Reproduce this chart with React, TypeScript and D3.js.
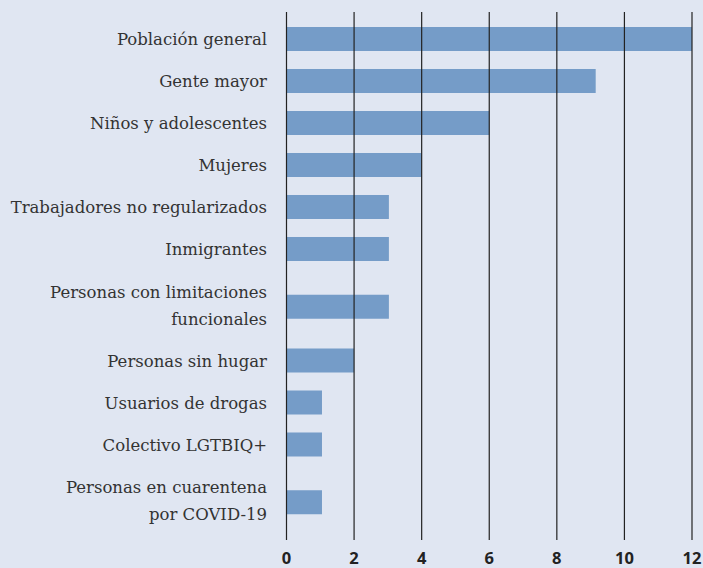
import { useEffect, useRef } from "react";
import * as d3 from "d3";

// categories (each entry = label lines)
const categories: string[][] = [
  ["Población general"],
  ["Gente mayor"],
  ["Niños y adolescentes"],
  ["Mujeres"],
  ["Trabajadores no regularizados"],
  ["Inmigrantes"],
  ["Personas con limitaciones", "funcionales"],
  ["Personas sin hugar"],
  ["Usuarios de drogas"],
  ["Colectivo LGTBIQ+"],
  ["Personas en cuarentena", "por COVID-19"],
];
const values = [12, 9.15, 6, 4, 3.03, 3.03, 3.03, 2, 1.05, 1.05, 1.05];
const ticks = [0, 2, 4, 6, 8, 10, 12];

export default function App() {
  const ref = useRef<SVGSVGElement>(null);

  useEffect(() => {
    const el = ref.current;
    if (!el) return;
    const W = 703, H = 568;
    const svg = d3.select(el).attr("width", W).attr("height", H).attr("viewBox", `0 0 ${W} ${H}`);
    svg.selectAll("*").remove();

    svg.append("rect").attr("width", W).attr("height", H).attr("fill", "#e0e6f2");

    const x = d3.scaleLinear().domain([0, 12]).range([286.5, 692]);

    // row heights: two-line labels take more room
    const units = categories.map((c) => (c.length > 1 ? 1.655 : 1));
    const starts: number[] = [];
    let acc = 0;
    units.forEach((u) => { starts.push(acc); acc += u; });
    const y = d3.scaleLinear().domain([0, acc]).range([18, 535]);
    const rows = categories.map((c, i) => ({
      lines: c,
      v: values[i],
      mid: y(starts[i] + units[i] / 2) + (c.length > 1 ? 2 : 0),
    }));
    const barH = 24;

    svg.append("g").selectAll("rect").data(rows).join("rect")
      .attr("x", x(0)).attr("y", (d) => d.mid - barH / 2)
      .attr("width", (d) => x(d.v) - x(0)).attr("height", barH)
      .attr("fill", "#759cc8");

    // gridlines over bars
    svg.append("g").selectAll("line").data(ticks).join("line")
      .attr("x1", (t) => x(t)).attr("x2", (t) => x(t))
      .attr("y1", 12).attr("y2", 540)
      .attr("stroke", "#222").attr("stroke-width", 1.2);

    svg.append("g").selectAll("text").data(ticks).join("text")
      .attr("x", (t) => x(t)).attr("y", 564).attr("text-anchor", "middle")
      .attr("fill", "#222").attr("font-size", 16.5).attr("font-weight", 700)
      .attr("font-family", "'Open Sans', sans-serif").text((t) => t);

    const lh = 27;
    const lbl = svg.append("g").selectAll("text").data(rows).join("text")
      .attr("text-anchor", "end").attr("fill", "#333")
      .attr("font-size", 16.5).attr("font-family", "'DejaVu Serif', serif")
      .attr("y", (d) => d.mid + 6.5 - ((d.lines.length - 1) * lh) / 2 - (d.lines.length > 1 ? 2 : 0));
    lbl.selectAll("tspan").data((d) => d.lines).join("tspan")
      .attr("x", 267).attr("dy", (_l, i) => (i === 0 ? 0 : lh)).text((l) => l);
  }, []);

  return (
    <svg ref={ref} style={{ position: "absolute", top: 0, left: 0, display: "block" }} role="img" aria-label="Bar chart" />
  );
}
